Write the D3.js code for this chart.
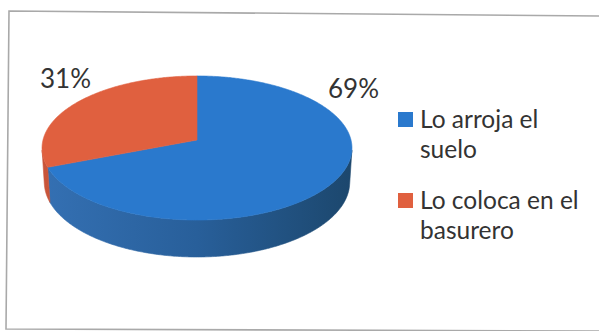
<!DOCTYPE html>
<html>
<head>
<meta charset="utf-8">
<script src="https://cdn.jsdelivr.net/npm/d3@7"></script>
<style>
  html, body { margin: 0; padding: 0; background: #ffffff; }
  svg { display: block; }
  text { font-family: Lato, "Open Sans", sans-serif; fill: #333333; }
</style>
</head>
<body>
<svg id="chart" width="599" height="331"></svg>
<script>
// Survey answers and their shares (percent)
const categories = ["Lo arroja el suelo", "Lo coloca en el basurero"];
const values = [69, 31];
const legendLines = [["Lo arroja el", "suelo"], ["Lo coloca en el", "basurero"]];
const sliceColors = ["#2a79cd", "#e0603f"];
const wallColors = [["#3470b3", "#285f9a", "#1c476d"], ["#c9553a", "#b94a30", "#a8412a"]];

const svg = d3.select("#chart");

// Outer frame of the chart area
svg.append("path")
  .attr("d", "M9,11 L601,16 L601,331 L6,329 Z")
  .attr("fill", "none")
  .attr("stroke", "#a9a9a9")
  .attr("stroke-width", 1.6);

// 3D pie: unit circle on the ground plane, viewed in perspective from above the front
const view = { cx: 197, cy: 140, D: 7.98, F: 1229, tilt: Math.asin(0.462), depth: 0.253 };
const cosT = Math.cos(view.tilt), sinT = Math.sin(view.tilt);
function project(X, Y, Z) {
  const d = view.D + Z * cosT - Y * sinT;
  return [view.cx + view.F * X / d, view.cy - view.F * (Y * cosT + Z * sinT) / d];
}
function rim(a, Y) { return project(Math.sin(a), Y, Math.cos(a)); }
function arcPoints(a0, a1, Y) {
  const n = Math.max(2, Math.ceil((a1 - a0) / 0.01));
  return d3.range(n + 1).map(i => rim(a0 + (a1 - a0) * i / n, Y));
}

const pie = d3.pie().sort(null).value(d => d.value);
const arcs = pie(values.map((v, i) => ({ value: v, i })));

// Only the front part of the outer wall faces the viewer
const visLo = Math.acos(-1 / (view.D * cosT));
const visHi = 2 * Math.PI - visLo;

const defs = svg.append("defs");
const xExt = d3.extent(d3.range(0, 2 * Math.PI, 0.01).map(a => rim(a, 0)[0]));
wallColors.forEach((stops, i) => {
  const g = defs.append("linearGradient")
    .attr("id", "wall" + i)
    .attr("gradientUnits", "userSpaceOnUse")
    .attr("x1", xExt[0]).attr("x2", xExt[1]).attr("y1", 0).attr("y2", 0);
  stops.forEach((c, k) => g.append("stop").attr("offset", k / (stops.length - 1)).attr("stop-color", c));
});

const line = d3.line();
const walls = svg.append("g");
arcs.forEach(a => {
  const a0 = Math.max(a.startAngle, visLo), a1 = Math.min(a.endAngle, visHi);
  if (a1 <= a0) return;
  const top = arcPoints(a0, a1, 0);
  const bottom = arcPoints(a0, a1, -view.depth).reverse();
  walls.append("path")
    .attr("d", line(top.concat(bottom)) + "Z")
    .attr("fill", "url(#wall" + a.data.i + ")")
    .attr("stroke", "url(#wall" + a.data.i + ")")
    .attr("stroke-width", 0.6);
});

const tops = svg.append("g");
arcs.forEach(a => {
  const pts = [project(0, 0, 0)].concat(arcPoints(a.startAngle, a.endAngle, 0));
  tops.append("path")
    .attr("d", line(pts) + "Z")
    .attr("fill", sliceColors[a.data.i])
    .attr("stroke", sliceColors[a.data.i])
    .attr("stroke-width", 0.6);
});

// Percentage labels
const labelPos = [[328, 98], [40, 88]];
const total = d3.sum(values);
svg.append("g").selectAll("text")
  .data(arcs)
  .join("text")
  .attr("x", a => labelPos[a.data.i][0])
  .attr("y", a => labelPos[a.data.i][1])
  .attr("font-size", 26)
  .text(a => Math.round(a.data.value / total * 100) + "%");

// Legend
const legend = svg.append("g").attr("transform", "translate(398,0)");
const rowY = [128, 209];
categories.forEach((c, i) => {
  const g = legend.append("g").attr("transform", `translate(0,${rowY[i]})`);
  g.append("rect").attr("x", 0).attr("y", -16).attr("width", 15).attr("height", 15)
    .attr("fill", sliceColors[i]);
  const t = g.append("text").attr("x", 22).attr("y", 0).attr("font-size", 24.5);
  legendLines[i].forEach((ln, k) => {
    t.append("tspan").attr("x", 22).attr("dy", k === 0 ? 0 : 30).text(ln);
  });
});
</script>
</body>
</html>
